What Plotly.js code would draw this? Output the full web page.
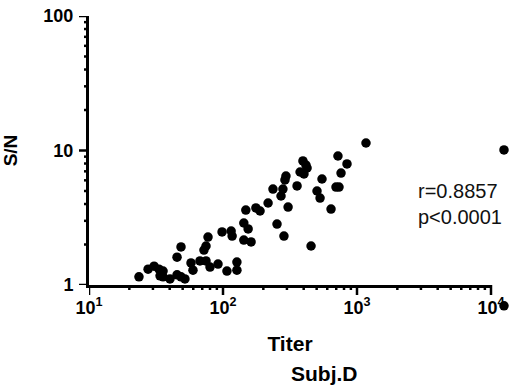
<!DOCTYPE html>
<html>
<head>
<meta charset="utf-8">
<script src="https://cdn.plot.ly/plotly-3.0.1.min.js"></script>
<style>html,body{margin:0;padding:0;background:#fff}#chart{width:509px;height:386px}</style>
</head>
<body>
<div id="chart"></div>
<script>
const titer = [23.6, 27.6, 30.6, 33.3, 35.7, 33.9, 35.7, 40.2, 45.4, 48.6, 52.0, 45.4, 48.6, 57.7, 59.7, 67.3, 74.7, 72.1, 74.7, 77.3, 80.0, 91.8, 98.4, 107, 115, 117, 127, 127, 143, 162, 143, 154, 148, 176, 189, 217, 236, 253, 285, 271, 280, 290, 295, 306, 357, 376, 395, 416, 424, 402, 454, 503, 530, 548, 640, 697, 734, 721, 842, 760, 1167];
const sn = [1.15, 1.31, 1.38, 1.31, 1.27, 1.17, 1.15, 1.11, 1.19, 1.15, 1.11, 1.61, 1.92, 1.46, 1.29, 1.51, 1.51, 1.82, 1.95, 2.27, 1.36, 1.43, 2.48, 1.27, 2.52, 2.31, 1.48, 1.29, 2.16, 2.09, 2.89, 2.61, 3.61, 3.74, 3.55, 4.07, 5.17, 2.84, 2.31, 4.59, 5.17, 6.04, 6.46, 3.80, 5.45, 6.92, 8.36, 7.80, 7.41, 6.69, 1.95, 5.00, 4.43, 6.14, 3.67, 5.35, 5.35, 9.10, 7.94, 6.80, 11.37];
// stray points beyond the right edge of the x axis
const strayTiter = [12500, 12500];
const straySN = [10.1, 0.70];
const xTickVals = [10, 100, 1000, 10000];
const xTickText = ['<b>10<sup>1</sup></b>', '<b>10<sup>2</sup></b>', '<b>10<sup>3</sup></b>', '<b>10<sup>4</sup></b>'];
const yTickVals = [1, 10, 100];
const yTickText = ['<b>1</b>', '<b>10</b>', '<b>100</b>'];

function minorVals(lo, hi) {
  const v = [];
  for (let d = lo; d < hi; d++) for (let k = 2; k <= 9; k++) v.push(k * Math.pow(10, d));
  return v;
}

const FONT = 'Liberation Sans, Arial, sans-serif';
const W = 509, H = 386, L = 89, R = 0, T = 16, B = 70;
const pw = W - L - R, ph = H - T - B;
const xEnd = 491, yBottom = 285;
const X_RANGE = [1, 4], Y_RANGE = [0, 2];
const decX = (xEnd - L) / (X_RANGE[1] - X_RANGE[0]), decY = (yBottom - T) / (Y_RANGE[1] - Y_RANGE[0]);
const xDom = [0, (xEnd - L) / pw], yDom = [(T + ph - yBottom) / ph, 1];

const TW = 2.5, MAJ = 10, MIN = 5;
// y tick marks as shapes on the y scale
const shapes = [];
yTickVals.forEach(v => shapes.push({type: 'line', xref: 'paper', yref: 'y', y0: v, y1: v,
  x0: 0, x1: -MAJ / pw, line: {color: '#000', width: TW}}));
minorVals(0, 2).forEach(v => shapes.push({type: 'line', xref: 'paper', yref: 'y', y0: v, y1: v,
  x0: 0, x1: -MIN / pw, line: {color: '#000', width: TW}}));

// x tick marks as a line trace on the extended overlay scales (x2/y2)
const yAxisBase = Math.pow(10, Y_RANGE[0]);
function tickSegs(vals, len) {
  const xs = [], ys = [];
  vals.forEach(v => { xs.push(v, v, null); ys.push(yAxisBase, yAxisBase * Math.pow(10, -len / decY), null); });
  return {xs, ys};
}
const majSeg = tickSegs(xTickVals, MAJ), minSeg = tickSegs(minorVals(1, 4), MIN);

const traces = [
  {x: titer, y: sn, type: 'scatter', mode: 'markers', xaxis: 'x', yaxis: 'y',
   marker: {color: '#000', size: 9.5}, cliponaxis: false},
  {x: strayTiter, y: straySN, type: 'scatter', mode: 'markers', xaxis: 'x2', yaxis: 'y2',
   marker: {color: '#000', size: 9.5}, cliponaxis: false},
  {x: majSeg.xs.concat(minSeg.xs), y: majSeg.ys.concat(minSeg.ys), type: 'scatter', mode: 'lines',
   xaxis: 'x2', yaxis: 'y2', line: {color: '#000', width: TW}, connectgaps: false, hoverinfo: 'skip'}
];
const layout = {
  width: W, height: H,
  margin: {l: L, r: R, t: T, b: B},
  paper_bgcolor: '#fff', plot_bgcolor: 'rgba(0,0,0,0)',
  showlegend: false,
  xaxis: {
    type: 'log', domain: xDom, anchor: 'y', range: X_RANGE,
    showgrid: false, zeroline: false, showline: true, linecolor: '#000', linewidth: 3,
    tickmode: 'array', tickvals: xTickVals, ticktext: xTickText,
    ticks: 'outside', ticklen: 4, tickwidth: 1, tickcolor: 'rgba(0,0,0,0)',
    tickfont: {family: FONT, size: 18, color: '#000'},
    title: {text: '<b>Titer</b>', standoff: 20, font: {family: FONT, size: 21, color: '#000'}}
  },
  yaxis: {
    type: 'log', domain: yDom, anchor: 'x', range: Y_RANGE,
    showgrid: false, zeroline: false, showline: true, linecolor: '#000', linewidth: 3,
    tickmode: 'array', tickvals: yTickVals, ticktext: yTickText,
    ticks: 'outside', ticklen: 9, tickwidth: 1, tickcolor: 'rgba(0,0,0,0)',
    tickfont: {family: FONT, size: 18, color: '#000'},
    title: {text: '<b>S/N</b>', standoff: 27, font: {family: FONT, size: 19, color: '#000'}}
  },
  xaxis2: {type: 'log', domain: [0, 1], anchor: 'y2', range: [X_RANGE[0], X_RANGE[0] + pw / decX], visible: false},
  yaxis2: {type: 'log', domain: [0, 1], anchor: 'x2', range: [Y_RANGE[0] - (T + ph - yBottom) / decY, Y_RANGE[1]], visible: false},
  shapes: shapes,
  annotations: [
    {xref: 'paper', yref: 'paper', x: (324 - L) / pw, y: (T + ph - 373) / ph, xanchor: 'center', yanchor: 'middle',
     text: '<b>Subj.D</b>', showarrow: false, font: {family: FONT, size: 21, color: '#000'}},
    {xref: 'paper', yref: 'paper', x: (416 - L) / pw, y: (T + ph - 204) / ph, xanchor: 'left', yanchor: 'middle', align: 'left',
     text: 'r=0.8857<br>p&lt;0.0001', showarrow: false, font: {family: FONT, size: 20, color: '#111'}}
  ]
};
Plotly.newPlot('chart', traces, layout, {displayModeBar: false});
</script>
</body>
</html>
